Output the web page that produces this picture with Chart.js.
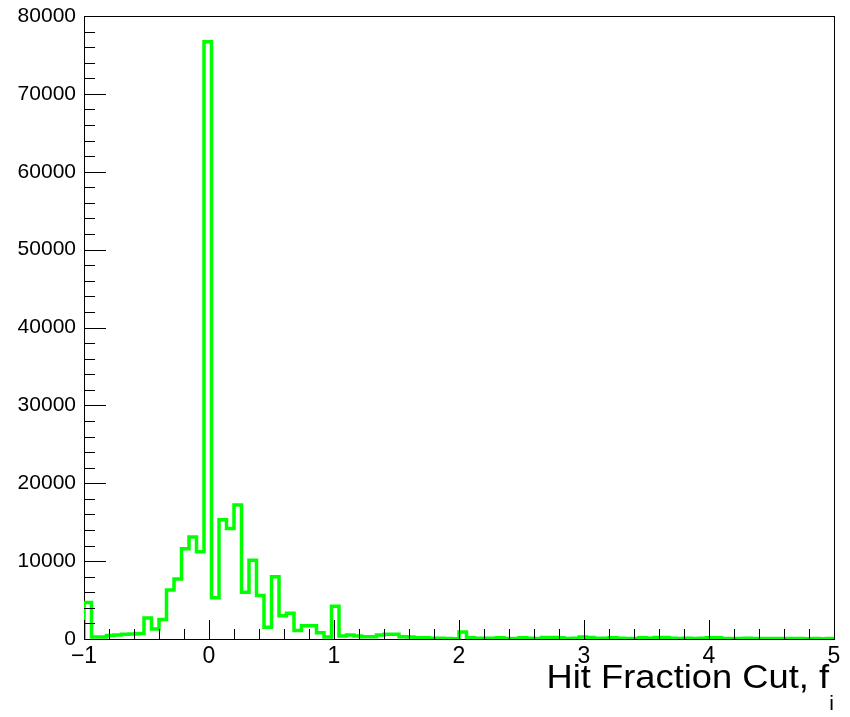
<!DOCTYPE html>
<html lang="en">
<head>
  <meta charset="UTF-8" />
  <title>Hit Fraction Cut</title>
  <script src="https://cdn.jsdelivr.net/npm/chart.js"></script>
  <style>
    body { margin: 0; background: #fff; }
    canvas { display: block; }
  </style>
</head>
<body>
  <canvas id="histChart" width="850" height="717"></canvas>

  <script>
    // histogram binning: 100 bins from -1 to 5
    const binStart = -1;
    const binWidth = 0.06;

    // counts per bin
    const counts = [
      4700, 250, 250, 450, 500, 600, 650, 700, 2700, 1300,
      2500, 6300, 7700, 11600, 13100, 11200, 76700, 5300, 15300, 14200,
      17200, 6000, 10100, 5600, 1500, 8000, 3000, 3300, 1100, 1700,
      1700, 800, 250, 4200, 400, 500, 400, 300, 300, 500,
      600, 600, 300, 250, 150, 150, 100, 100, 50, 30,
      900, 150, 100, 100, 100, 150, 50, 50, 150, 100,
      50, 200, 200, 150, 50, 100, 250, 200, 100, 100,
      150, 100, 80, 50, 150, 100, 200, 200, 100, 80,
      100, 50, 100, 150, 150, 80, 50, 50, 100, 50,
      50, 50, 50, 80, 50, 50, 30, 50, 30, 50
    ];

    const xTicks = [-1, 0, 1, 2, 3, 4, 5];
    const yTicks = [0, 10000, 20000, 30000, 40000, 50000, 60000, 70000, 80000];
    const xTitle = "Hit Fraction Cut, f";
    const xTitleSub = "i";

    const FONT = "'Liberation Sans', Arial, sans-serif";

    // outline points at bin edges (stepped line)
    const points = [{ x: binStart, y: 0 }];
    counts.forEach((c, i) => points.push({ x: binStart + i * binWidth, y: c }));
    points.push({ x: binStart + counts.length * binWidth, y: counts[counts.length - 1] });
    points.push({ x: binStart + counts.length * binWidth, y: 0 });

    // frame first, so the histogram sits on top of it
    const frame = {
      id: "frame",
      beforeDatasetsDraw(chart) {
        const { ctx, chartArea: a } = chart;
        ctx.save();
        ctx.strokeStyle = "#000";
        ctx.lineWidth = 1;
        ctx.strokeRect(a.left + 0.5, a.top + 0.5, a.right - a.left, a.bottom - a.top);
        ctx.restore();
      }
    };

    // ROOT-style inward ticks + axis title with subscript
    const rootTicks = {
      id: "rootTicks",
      afterDatasetsDraw(chart) {
        const { ctx, chartArea: a, scales } = chart;
        ctx.save();
        ctx.strokeStyle = "#000";
        ctx.lineWidth = 1;
        ctx.beginPath();
        for (let k = 0; k <= 40; k++) {
          const v = k * 2000;
          const py = Math.round(scales.y.getPixelForValue(v)) + 0.5;
          const len = k % 5 === 0 ? 22 : 11;
          ctx.moveTo(a.left, py);
          ctx.lineTo(a.left + len, py);
        }
        for (let k = 0; k <= 30; k++) {
          const v = -1 + k * 0.2;
          const px = Math.round(scales.x.getPixelForValue(v)) + 0.5;
          const len = k % 5 === 0 ? 19 : 10;
          ctx.moveTo(px, a.bottom);
          ctx.lineTo(px, a.bottom - len);
        }
        ctx.stroke();

        ctx.fillStyle = "#000";
        ctx.textAlign = "right";
        ctx.textBaseline = "alphabetic";
        ctx.font = "21px " + FONT;
        ctx.fillText(xTitleSub, a.right, 710);
        // title glyphs in the source are a bit wider than Liberation Sans
        ctx.font = "33px " + FONT;
        ctx.translate(a.right - 5, 688);
        ctx.scale(1.1, 1);
        ctx.fillText(xTitle, 0, 0);
        ctx.restore();
      }
    };

    const ctx = document.getElementById("histChart").getContext("2d");

    new Chart(ctx, {
      type: "line",
      data: {
        datasets: [
          {
            data: points,
            stepped: true,
            borderColor: "#00ff00",
            borderWidth: 3.5,
            pointRadius: 0,
            fill: false
          }
        ]
      },
      options: {
        responsive: false,
        animation: false,
        layout: { padding: { top: 16, right: 16, left: 0, bottom: 0 } },
        plugins: {
          legend: { display: false },
          tooltip: { enabled: false }
        },
        scales: {
          x: {
            type: "linear",
            min: -1,
            max: 5,
            grid: { display: false, drawTicks: false },
            border: { display: false },
            afterBuildTicks: (s) => { s.ticks = xTicks.map((v) => ({ value: v })); },
            afterFit: (s) => { s.height = 78; s.paddingLeft = 0; s.paddingRight = 0; },
            ticks: {
              color: "#000",
              padding: 4,
              maxRotation: 0,
              autoSkip: false,
              font: { family: FONT, size: 23 },
              callback: (v) => (v < 0 ? "\u2212" + Math.abs(v) : String(v))
            }
          },
          y: {
            min: 0,
            max: 80000,
            grid: { display: false, drawTicks: false },
            border: { display: false },
            afterBuildTicks: (s) => { s.ticks = yTicks.map((v) => ({ value: v })); },
            afterFit: (s) => { s.width = 84; s.paddingTop = 0; s.paddingBottom = 0; },
            ticks: {
              color: "#000",
              padding: 8,
              font: { family: FONT, size: 21 },
              callback: (v) => String(v)
            }
          }
        }
      },
      plugins: [frame, rootTicks]
    });
  </script>
</body>
</html>
